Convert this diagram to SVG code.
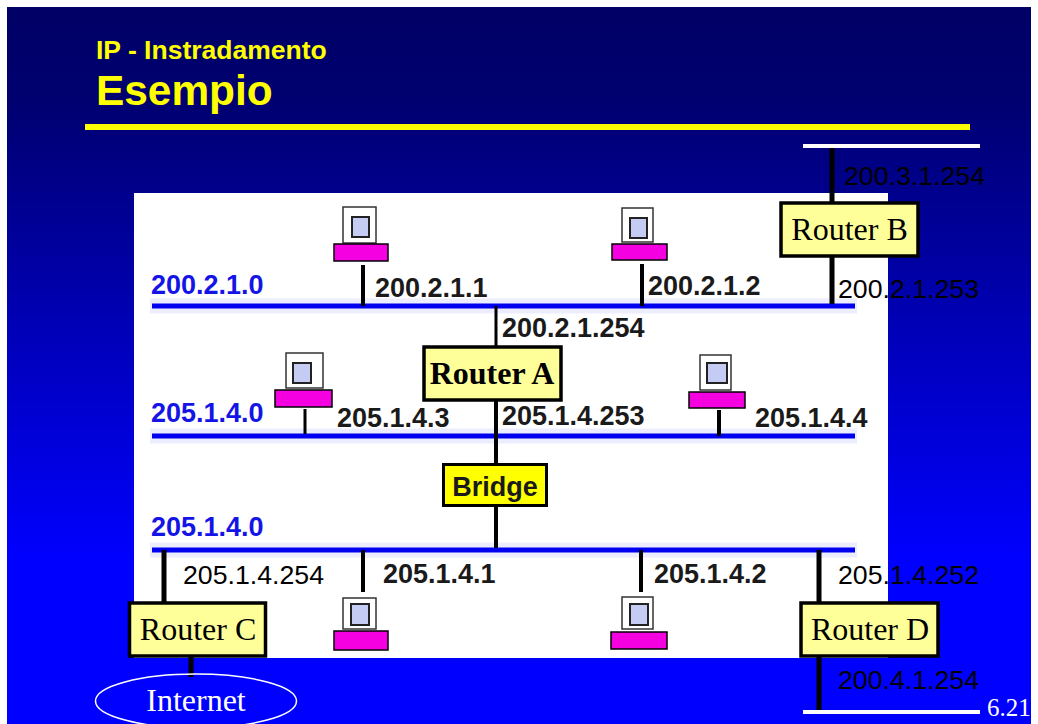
<svg xmlns="http://www.w3.org/2000/svg" width="1038" height="724" viewBox="0 0 1038 724">
<style>
.halo{stroke:#eceeff;stroke-width:15;fill:none}
.bus{stroke:#0000f0;stroke-width:5;fill:none}
.w{stroke:#000;stroke-width:4;fill:none}
.w5{stroke:#000;stroke-width:5;fill:none}
.w3{stroke:#000;stroke-width:3;fill:none}
.box{fill:#ffff99;stroke:#000;stroke-width:3.500}
.rt{font-family:"Liberation Serif",serif;font-size:32px;fill:#000;text-anchor:middle}
.ip{font-family:"Liberation Sans",Arial,sans-serif;font-size:26.700px;fill:#000}
.lb{font-family:"Liberation Sans",Arial,sans-serif;font-size:27px;font-weight:bold;fill:#1a1a1a}
.net{font-family:"Liberation Sans",Arial,sans-serif;font-size:27px;font-weight:bold;fill:#1414e6}
.base{fill:#f500e0;stroke:#000;stroke-width:1.500}
.scr{fill:#fff;stroke:#333;stroke-width:1.500}
.in{fill:#c4ccf4;stroke:#222;stroke-width:2}
</style>
<defs>
<linearGradient id="bg" gradientUnits="userSpaceOnUse" x1="0" y1="7" x2="0" y2="724"><stop offset="0" stop-color="#000066"/><stop offset="0.13" stop-color="#000070"/><stop offset="0.77" stop-color="#0000ff"/></linearGradient>
</defs>
<rect width="1038" height="724" fill="#fff"/>
<rect x="7" y="7" width="1024" height="717" fill="url(#bg)"/>
<g id="title">
<text x="96" y="59" font-family="Liberation Sans,Arial,sans-serif" font-size="26.500" font-weight="bold" fill="#ffff00">IP - Instradamento</text>
<text x="96" y="105" font-family="Liberation Sans,Arial,sans-serif" font-size="42.400" font-weight="bold" fill="#ffff00">Esempio</text>
<rect x="85" y="124" width="885" height="6" fill="#ffff00"/>
</g>
<rect id="panel" x="134" y="193" width="754" height="465" fill="#fff"/>
<g id="connectors">
<path class="halo" d="M150 306H857M150 436H857M150 550H857"/>
<path class="bus" d="M152 306H855M152 436H855M152 550H855"/>
<path class="w" d="M363 265V306M642 264V306M719 410V436M363 550V592M641 550V592"/>
<path class="w3" d="M305 409V434M496 306V346"/>
<path class="w" d="M496 400V464M496 506V548"/>
<path class="w5" d="M164 550V602M191 656V677M819 550V602M832 148V202M832 256V304M819 656V711"/>
<path stroke="#fff" stroke-width="4" d="M803 146H980M803 712H980" fill="none"/>
</g>
<g id="net-labels">
<text class="net" x="151" y="294">200.2.1.0</text>
<text class="net" x="151" y="422">205.1.4.0</text>
<text class="net" x="151" y="536">205.1.4.0</text>
</g>
<g id="pc1"><rect class="scr" x="343" y="207" width="33" height="36"/><rect class="in" x="352" y="217" width="17" height="20"/><rect class="base" x="334" y="244" width="54" height="17"/></g>
<g id="pc2"><rect class="scr" x="622" y="208" width="31" height="34"/><rect class="in" x="630" y="218" width="17" height="20"/><rect class="base" x="612" y="244" width="55" height="16"/></g>
<g id="pc3"><rect class="scr" x="286" y="353" width="37" height="35"/><rect class="in" x="293" y="363" width="18" height="20"/><rect class="base" x="275" y="390" width="57" height="17"/></g>
<g id="pc4"><rect class="scr" x="700" y="355" width="31" height="35"/><rect class="in" x="707" y="363" width="20" height="20"/><rect class="base" x="689" y="392" width="56" height="16"/></g>
<g id="pc5"><rect class="scr" x="343" y="598" width="33" height="31"/><rect class="in" x="351" y="604" width="18" height="21"/><rect class="base" x="334" y="631" width="54" height="19"/></g>
<g id="pc6"><rect class="scr" x="622" y="597" width="31" height="32"/><rect class="in" x="630" y="604" width="18" height="21"/><rect class="base" x="611" y="632" width="56" height="17"/></g>
<g id="host-labels">
<text class="lb" x="375" y="297">200.2.1.1</text>
<text class="lb" x="648" y="295">200.2.1.2</text>
<text class="lb" x="502" y="337">200.2.1.254</text>
<text class="lb" x="337" y="427">205.1.4.3</text>
<text class="lb" x="502" y="425">205.1.4.253</text>
<text class="lb" x="755" y="427">205.1.4.4</text>
<text class="lb" x="383" y="583">205.1.4.1</text>
<text class="lb" x="654" y="583">205.1.4.2</text>
</g>
<g id="router-a"><rect class="box" x="424" y="347" width="137" height="53"/><text class="rt" x="492" y="384" font-weight="bold">Router A</text></g>
<g id="router-b"><rect class="box" x="781" y="203" width="137" height="53"/><text class="rt" x="849.500" y="240">Router B</text></g>
<g id="router-c"><rect class="box" x="129.500" y="603" width="136" height="53"/><text class="rt" x="198" y="640">Router C</text></g>
<g id="router-d"><rect class="box" x="801" y="603" width="137" height="53"/><text class="rt" x="870" y="640">Router D</text></g>
<g id="bridge"><rect x="443.500" y="464.500" width="103" height="41" fill="#ffff00" stroke="#000" stroke-width="3"/><text class="lb" x="495" y="496" text-anchor="middle">Bridge</text></g>
<g id="internet"><ellipse cx="196" cy="701" rx="100.500" ry="27" fill="none" stroke="#fff" stroke-width="1.500"/><text x="196" y="711" font-family="Liberation Serif,serif" font-size="32" fill="#fff" text-anchor="middle">Internet</text></g>
<g id="router-labels">
<text class="ip" x="844" y="185">200.3.1.254</text>
<text class="ip" x="838" y="298">200.2.1.253</text>
<text class="ip" x="183" y="584">205.1.4.254</text>
<text class="ip" x="838" y="584">205.1.4.252</text>
<text class="ip" x="838" y="689">200.4.1.254</text>
</g>
<text id="page" x="987" y="716" font-family="Liberation Serif,serif" font-size="25" fill="#fff">6.21</text>
</svg>
